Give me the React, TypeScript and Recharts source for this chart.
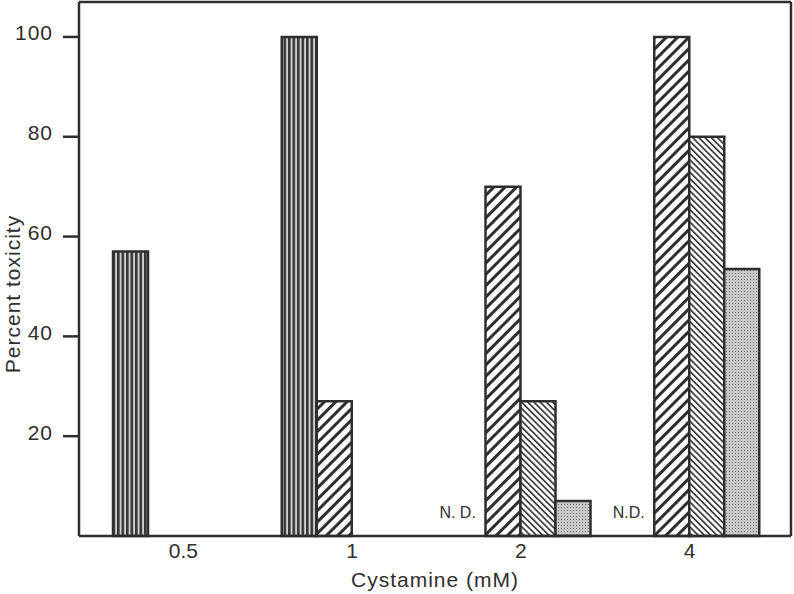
import { BarChart, Bar, XAxis, YAxis, CartesianGrid } from 'recharts';

// Cystamine dose groups
const doses = ['0.5', '1', '2', '4'];
// percent toxicity per treatment (null = no bar)
const seriesA = [57, 100, null, null];
const seriesB = [null, 27, 70, 100];
const seriesC = [null, null, 27, 80];
const seriesD = [null, null, 7, 53.5];
// notes written in the empty first slot
const notes = ['', '', 'N. D.', 'N.D.'];
const yTicks = [20, 40, 60, 80, 100];

const data = doses.map((dose, i) => ({
    dose,
    a: seriesA[i],
    b: seriesB[i],
    c: seriesC[i],
    d: seriesD[i],
}));

const ink = '#2e2e2e';
const font = '"Liberation Sans", Arial, sans-serif';
const BAR = 35;

// category label plus the "not determined" note above the axis in the first slot
const DoseTick = (props: any) => {
    const { x, y, payload, index } = props;
    const note = notes[payload?.index ?? index];
    return (
        <g>
            <text x={x} y={y} dy="0.71em" textAnchor="middle" fontSize={21} fontFamily={font} fill={ink}>
                {payload.value}
            </text>
            {note ? (
                <text x={x - BAR - 10} y={y - 25} textAnchor="end" fontSize={16} fontFamily={font} fill={ink}>
                    {note}
                </text>
            ) : null}
        </g>
    );
};

const YTitle = (props: any) => {
    const { viewBox } = props;
    const cy = viewBox.y + viewBox.height / 2 + 25;
    return (
        <text
            x={20}
            y={cy}
            transform={`rotate(-90, 20, ${cy})`}
            textAnchor="middle"
            fontSize={21}
            letterSpacing={1}
            fontFamily={font}
            fill={ink}
        >
            Percent toxicity
        </text>
    );
};

export default function App() {
    return (
        <div style={{ position: 'absolute', left: 0, top: 0, width: 794, height: 594, background: '#fff' }}>
            <BarChart
                width={794}
                height={594}
                data={data}
                margin={{ top: 2, right: 3, left: 0, bottom: 0 }}
                barSize={BAR}
                barGap={0}
            >
                <defs>
                    <pattern id="vstripe" patternUnits="userSpaceOnUse" width={4.5} height={10}>
                        <rect width={4.5} height={10} fill="#cfcfcf" />
                        <rect width={2.6} height={10} fill="#363636" />
                    </pattern>
                    <pattern id="fwd" patternUnits="userSpaceOnUse" width={8} height={8} patternTransform="rotate(45)">
                        <rect width={8} height={8} fill="#fff" />
                        <rect width={3} height={8} fill={ink} />
                    </pattern>
                    <pattern id="back" patternUnits="userSpaceOnUse" width={4.4} height={8} patternTransform="rotate(-45)">
                        <rect width={4.4} height={8} fill="#fff" />
                        <rect width={1.6} height={8} fill={ink} />
                    </pattern>
                    <pattern id="dots" patternUnits="userSpaceOnUse" width={3} height={3}>
                        <rect width={3} height={3} fill="#c8c8c8" />
                        <rect width={1} height={1} fill="#6e6e6e" />
                    </pattern>
                </defs>
                {/* top and right edges of the frame */}
                <CartesianGrid
                    stroke={ink}
                    strokeWidth={2.5}
                    horizontalCoordinatesGenerator={({ offset }: any) => [offset.top]}
                    verticalCoordinatesGenerator={({ offset }: any) => [offset.left + offset.width]}
                />
                <XAxis
                    dataKey="dose"
                    height={58}
                    interval={0}
                    tickLine={false}
                    tickSize={0}
                    tickMargin={7}
                    padding={{ left: 20, right: 17 }}
                    axisLine={{ stroke: ink, strokeWidth: 2.5 }}
                    tick={<DoseTick />}
                    label={{
                        value: 'Cystamine (mM)',
                        position: 'insideBottom',
                        offset: 7,
                        fontSize: 21,
                        fill: ink,
                        fontFamily: font,
                        letterSpacing: 1,
                    }}
                />
                <YAxis
                    width={79}
                    domain={[0, 107]}
                    ticks={yTicks}
                    tickSize={16}
                    tickMargin={10}
                    axisLine={{ stroke: ink, strokeWidth: 2.5 }}
                    tickLine={{ stroke: ink, strokeWidth: 2.5 }}
                    tick={{ fontSize: 21, fill: ink, fontFamily: font, dy: -4, letterSpacing: 1 }}
                    label={<YTitle />}
                />
                <Bar dataKey="a" fill="url(#vstripe)" stroke={ink} strokeWidth={2.5} isAnimationActive={false} />
                <Bar dataKey="b" fill="url(#fwd)" stroke={ink} strokeWidth={2.5} isAnimationActive={false} />
                <Bar dataKey="c" fill="url(#back)" stroke={ink} strokeWidth={2.5} isAnimationActive={false} />
                <Bar dataKey="d" fill="url(#dots)" stroke={ink} strokeWidth={2.5} isAnimationActive={false} />
            </BarChart>
        </div>
    );
}
